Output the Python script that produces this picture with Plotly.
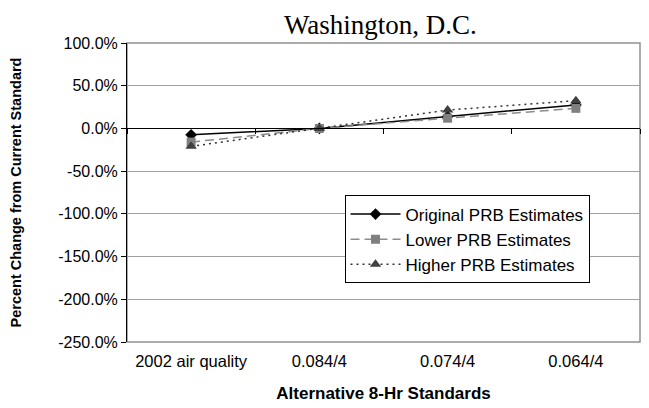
import plotly.graph_objects as go

categories = ["2002 air quality", "0.084/4", "0.074/4", "0.064/4"]
original = [-7.5, 0.0, 14.0, 27.5]
lower = [-16.0, 0.0, 12.0, 23.5]
higher = [-21.0, 0.0, 21.5, 32.5]
y_ticks = [100, 50, 0, -50, -100, -150, -200, -250]
y_tick_labels = ["100.0%", "50.0%", "0.0%", "-50.0%", "-100.0%", "-150.0%", "-200.0%", "-250.0%"]

fig = go.Figure()
fig.add_trace(go.Scatter(x=categories, y=original, name="Original PRB Estimates",
                         mode="lines+markers",
                         line=dict(color="black", width=1.5),
                         marker=dict(symbol="diamond", size=9, color="black")))
fig.add_trace(go.Scatter(x=categories, y=lower, name="Lower PRB Estimates",
                         mode="lines+markers",
                         line=dict(color="#8c8c8c", width=1.5, dash="9px,5px"),
                         marker=dict(symbol="square", size=9, color="#808080")))
fig.add_trace(go.Scatter(x=categories, y=higher, name="Higher PRB Estimates",
                         mode="lines+markers",
                         line=dict(color="#333333", width=1.5, dash="2px,4px"),
                         marker=dict(symbol="triangle-up", size=10, color="#404040")))

# zero-line axis carrying the category boundary ticks
fig.add_trace(go.Scatter(x=categories, y=[None]*4, xaxis="x2", showlegend=False, hoverinfo="skip"))

y_min, y_max = -250, 100

fig.update_layout(
    width=649, height=408,
    margin=dict(l=127, r=9, t=43, b=66),
    paper_bgcolor="white", plot_bgcolor="white",
    font=dict(family="Arial, Liberation Sans, sans-serif", size=16, color="black"),
    title=dict(text="Washington, D.C.", x=0.586, xanchor="center", y=0.94, yanchor="middle",
               font=dict(family="Liberation Serif, Times New Roman, serif", size=27, color="black")),
    xaxis=dict(type="category", range=[-0.5, 3.5], showgrid=False, showline=False,
               zeroline=False, ticks="", tickfont=dict(size=16.5), automargin=False,
               ticklabelstandoff=7,
               title=dict(text="<b>Alternative 8-Hr Standards</b>", font=dict(size=17), standoff=18)),
    xaxis2=dict(type="category", range=[-0.5, 3.5], overlaying="x", anchor="free",
                position=(0 - y_min) / (y_max - y_min), side="bottom",
                showline=True, linecolor="black", linewidth=1, automargin=False,
                ticks="outside", ticklen=5, tickcolor="black", tickson="boundaries",
                showticklabels=False, showgrid=False, zeroline=False),
    yaxis=dict(range=[y_min, y_max], tickvals=y_ticks, ticktext=y_tick_labels,
               showgrid=True, gridcolor="#a0a0a0", gridwidth=1, automargin=False,
               zeroline=False, showline=True, linecolor="black", linewidth=1,
               ticks="outside", ticklen=5, tickcolor="black", tickfont=dict(size=16),
               title=dict(text="<b>Percent Change from Current Standard</b>", font=dict(size=14.5), standoff=33)),
    legend=dict(x=0.424, y=0.49, xanchor="left", yanchor="top",
                bgcolor="white", bordercolor="black", borderwidth=1,
                font=dict(size=17), itemwidth=50, tracegroupgap=0),
    shapes=[dict(type="rect", xref="paper", yref="paper", x0=0, x1=1, y0=0, y1=1,
                 line=dict(color="#909090", width=1.5), layer="below")],
)

fig.write_html("out.html", config={"displayModeBar": False},
               post_script="document.body.style.margin='0';document.body.style.padding='0';")
